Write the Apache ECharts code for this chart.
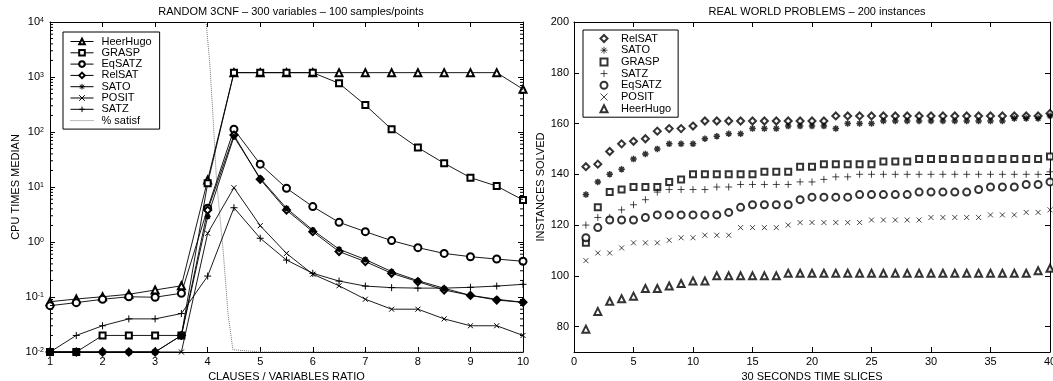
<!DOCTYPE html>
<html><head><meta charset="utf-8">
<script src="https://cdn.jsdelivr.net/npm/echarts@6/dist/echarts.min.js"></script>
<style>html,body{margin:0;padding:0;background:#fff}#c{width:1053px;height:381px}</style>
</head><body><div id="c"></div>
<script>
// ---------- LEFT: RANDOM 3CNF ----------
const ratios = [1,1.5,2,2.5,3,3.5,4,4.5,5,5.5,6,6.5,7,7.5,8,8.5,9,9.5,10];
const heerHugo = [0.082,0.092,0.101,0.112,0.134,0.16,13.4,1200,1200,1200,1200,1200,1200,1200,1200,1200,1200,1200,600];
const grasp    = [0.01,0.01,0.02,0.02,0.02,0.02,11.7,1200,1200,1200,1200,768,309,112,52,27,14.8,10.4,5.8];
const eqsatz   = [0.0695,0.079,0.091,0.101,0.099,0.117,4.1,112,26,9.5,4.4,2.28,1.54,1.06,0.79,0.62,0.54,0.49,0.446];
const relsat   = [0.01,0.01,0.01,0.01,0.01,0.02,3.8,88,13.8,3.8,1.54,0.67,0.44,0.27,0.19,0.134,0.107,0.088,0.08];
const sato     = [0.01,0.01,0.01,0.01,0.01,0.02,2.9,82,14.4,4.1,1.65,0.74,0.48,0.29,0.198,0.144,0.107,0.091,0.08];
const posit    = [0.01,0.01,0.01,0.01,0.01,0.01,1.44,9.7,1.98,0.62,0.26,0.16,0.091,0.06,0.06,0.04,0.03,0.03,0.02];
const satz     = [0.01,0.02,0.03,0.04,0.04,0.05,0.24,4.2,1.17,0.47,0.27,0.195,0.158,0.148,0.145,0.145,0.15,0.158,0.17];
const satisfX  = [3.97,4.04,4.1,4.17,4.29,4.39,4.48,5,10];
const satisfV  = [10000,1800,204,12.6,0.78,0.047,0.011,0.01,0.01];
const leftNames = ['HeerHugo','GRASP','EqSATZ','RelSAT','SATO','POSIT','SATZ','% satisf'];
const logMantissas = [2,3,4,5,6,7,8,9];
const logDecades = [-2,-1,0,1,2,3];

// ---------- RIGHT: REAL WORLD PROBLEMS ----------
const slices = [1,2,3,4,5,6,7,8,9,10,11,12,13,14,15,16,17,18,19,20,21,22,23,24,25,26,27,28,29,30,31,32,33,34,35,36,37,38,39,40];
const relsatR = [143,144,149,152,153,154,157,158,158,159,161,161,161,161,161,161,161,161,161,161,161,163,163,163,163,163,163,163,163,163,163,163,163,163,163,163,163,163,163,164];
const satoR   = [132,137,140,142,146,148,150,152,152,152,154,155,156,156,158,158,158,159,159,159,159,158,160,160,160,161,161,161,161,161,161,161,161,161,161,161,162,162,162,163];
const graspR  = [113,127,133,134,135,135,135,137,138,140,140,140,140,140,140,141,141,141,143,143,144,144,144,144,144,145,145,145,146,146,146,146,146,146,146,146,146,146,146,147];
const satzR   = [120,123,123,126,128,130,133,134,134,134,134,135,135,136,136,136,136,136,137,137,138,139,139,140,140,140,140,140,140,140,140,140,140,140,140,140,140,140,140,141];
const eqsatzR = [115,119,122,122,122,123,124,124,124,124,124,124,125,127,128,128,128,128,130,131,131,131,131,132,132,132,132,132,133,133,133,133,133,134,135,135,135,136,136,137];
const positR  = [106,109,109,111,113,113,113,114,115,115,116,116,116,119,119,119,119,120,121,121,121,121,121,121,122,122,122,122,122,123,123,123,123,123,124,124,124,125,125,126];
const heerR   = [79,86,90,91,92,95,95,96,97,98,98,100,100,100,100,100,100,101,101,101,101,101,101,101,101,101,101,101,101,101,101,101,101,101,101,101,101,101,102,103];
const rightNames = ['RelSAT','SATO','GRASP','SATZ','EqSATZ','POSIT','HeerHugo'];
const rightYTicks = [80,100,120,140,160,180,200];

const FONT = 'Liberation Sans, Arial, Helvetica, sans-serif';
const X_PATH = 'path://M0,0L10,10M10,0L0,10';
const PLUS_PATH = 'path://M5,0L5,10M0,5L10,5';
const STAR_PATH = 'path://M5,0L5,10M0,5L10,5M1.5,1.5L8.5,8.5M8.5,1.5L1.5,8.5';

const pair = (xs, ys) => xs.map((x, i) => [x, ys[i]]);
const minorVals = [];
logDecades.forEach(d => logMantissas.forEach(m => minorVals.push([1, m * Math.pow(10, d)])));

function lineSeries(name, vals, symbol, size, bw) {
  return {
    type: 'line', name: name, xAxisIndex: 0, yAxisIndex: 0,
    data: pair(ratios, vals), symbol: symbol, symbolSize: size, showAllSymbol: true,
    lineStyle: { color: '#000', width: 0.9 },
    itemStyle: { color: '#000', borderColor: '#000', borderWidth: bw || 1 },
    emphasis: { disabled: true }, z: 3
  };
}
function scatterSeries(name, vals, symbol, size, bw) {
  return {
    type: 'scatter', name: 'R:' + name, xAxisIndex: 2, yAxisIndex: 2,
    data: pair(slices, vals), symbol: symbol, symbolSize: size,
    itemStyle: { color: '#000', borderColor: '#000', borderWidth: bw || 0.9 },
    emphasis: { disabled: true }
  };
}

const axisLine = { show: true, onZero: false, lineStyle: { color: '#000', width: 1 } };
const tickIn = { show: true, inside: true, length: 5, lineStyle: { color: '#000' } };
const lab = { color: '#000', fontSize: 11, fontFamily: FONT };

const leftLegendData = leftNames.map(n => n === '% satisf'
  ? { name: n, itemStyle: { opacity: 0 } }
  : { name: n });

const option = {
  animation: false,
  backgroundColor: '#fff',
  textStyle: { fontFamily: FONT, color: '#000' },
  title: [
    { text: 'RANDOM 3CNF \u2013 300 variables \u2013 100 samples/points', left: 286, top: 1, textAlign: 'center',
      textStyle: { fontSize: 11, fontWeight: 'normal', color: '#000', fontFamily: FONT } },
    { text: 'REAL WORLD PROBLEMS \u2013 200 instances', left: 812, top: 1, textAlign: 'center',
      textStyle: { fontSize: 11, fontWeight: 'normal', color: '#000', fontFamily: FONT } }
  ],
  legend: [
    { data: leftLegendData, orient: 'vertical', left: 63, top: 32, padding: [4, 8, 3, 7],
      itemWidth: 23, itemHeight: 7, itemGap: 0.3, selectedMode: false,
      itemStyle: { borderWidth: 1 }, lineStyle: { width: 1 },
      backgroundColor: '#fff', borderColor: '#000', borderWidth: 1, borderRadius: 0,
      textStyle: { fontSize: 11, color: '#000', fontFamily: FONT, lineHeight: 11, padding: [0, 0, 0, 3] } },
    { data: rightNames.map(n => 'R:' + n), orient: 'vertical', left: 583, top: 30, padding: [3, 7, 3, 16.5],
      itemWidth: 7, itemHeight: 7, itemGap: 0.7, selectedMode: false,
      itemStyle: { borderWidth: 0.9 },
      formatter: n => n.replace('R:', ''),
      backgroundColor: '#fff', borderColor: '#000', borderWidth: 1, borderRadius: 0,
      textStyle: { fontSize: 11, color: '#000', fontFamily: FONT, lineHeight: 11, padding: [0, 0, 0, 8.5] } }
  ],
  grid: [
    { left: 50, top: 22, width: 473, height: 330, containLabel: false, outerBoundsMode: 'none' },
    { left: 574, top: 22, width: 476, height: 330, containLabel: false, outerBoundsMode: 'none' }
  ],
  xAxis: [
    { type: 'value', gridIndex: 0, min: 1, max: 10, interval: 1, position: 'bottom',
      name: 'CLAUSES / VARIABLES RATIO', nameLocation: 'middle', nameGap: 14,
      nameTextStyle: { fontSize: 11, color: '#000', fontFamily: FONT },
      axisLine: axisLine, axisTick: tickIn, splitLine: { show: false },
      axisLabel: Object.assign({ margin: 4 }, lab) },
    { type: 'value', gridIndex: 0, min: 1, max: 10, interval: 1, position: 'top',
      axisLine: axisLine, axisTick: tickIn, splitLine: { show: false }, axisLabel: { show: false } },
    { type: 'value', gridIndex: 1, min: 0, max: 40, interval: 5, position: 'bottom',
      name: '30 SECONDS TIME SLICES', nameLocation: 'middle', nameGap: 14,
      nameTextStyle: { fontSize: 11, color: '#000', fontFamily: FONT },
      axisLine: axisLine, axisTick: tickIn, splitLine: { show: false },
      axisLabel: Object.assign({ margin: 4 }, lab) },
    { type: 'value', gridIndex: 1, min: 0, max: 40, interval: 5, position: 'top',
      axisLine: axisLine, axisTick: tickIn, splitLine: { show: false }, axisLabel: { show: false } }
  ],
  yAxis: [
    { type: 'log', logBase: 10, gridIndex: 0, min: 0.01, max: 10000, splitNumber: 6, position: 'left',
      name: 'CPU TIMES MEDIAN', nameLocation: 'middle', nameGap: 29, nameRotate: 90,
      nameTextStyle: { fontSize: 11, color: '#000', fontFamily: FONT },
      axisLine: axisLine, axisTick: tickIn, splitLine: { show: false }, minorTick: { show: false },
      axisLabel: { margin: 6, color: '#000', fontFamily: FONT,
        formatter: v => '{b|10}{s|' + Math.round(Math.log10(v)) + '}',
        rich: { b: { fontSize: 11, fontFamily: FONT, color: '#000' },
                s: { fontSize: 7, fontFamily: FONT, color: '#000', verticalAlign: 'top', padding: [0, 0, 4, 0] } } } },
    { type: 'log', logBase: 10, gridIndex: 0, min: 0.01, max: 10000, splitNumber: 6, position: 'right',
      axisLine: axisLine, axisTick: tickIn, splitLine: { show: false }, axisLabel: { show: false } },
    { type: 'value', gridIndex: 1, min: 70, max: 200, position: 'left',
      name: 'INSTANCES SOLVED', nameLocation: 'middle', nameGap: 23, nameRotate: 90,
      nameTextStyle: { fontSize: 11, color: '#000', fontFamily: FONT },
      axisLine: axisLine, axisTick: Object.assign({ customValues: rightYTicks }, tickIn), splitLine: { show: false },
      axisLabel: Object.assign({ margin: 5, customValues: rightYTicks }, lab) },
    { type: 'value', gridIndex: 1, min: 70, max: 200, position: 'right',
      axisLine: axisLine, axisTick: Object.assign({ customValues: rightYTicks }, tickIn), splitLine: { show: false },
      axisLabel: { show: false, customValues: rightYTicks } }
  ],
  series: [
    lineSeries('HeerHugo', heerHugo, 'emptyTriangle', 7),
    lineSeries('GRASP', grasp, 'emptyRect', 6),
    lineSeries('EqSATZ', eqsatz, 'emptyCircle', 7),
    lineSeries('RelSAT', relsat, 'emptyDiamond', 7),
    lineSeries('SATO', sato, STAR_PATH, 6, 1.6),
    lineSeries('POSIT', posit, X_PATH, 5),
    lineSeries('SATZ', satz, PLUS_PATH, 7),
    { type: 'line', name: '% satisf', xAxisIndex: 0, yAxisIndex: 0, data: pair(satisfX, satisfV),
      showSymbol: false, symbol: 'none', lineStyle: { color: '#777', width: 1, type: 'dotted' },
      itemStyle: { color: '#777' }, emphasis: { disabled: true }, z: 2 },
    { type: 'custom', xAxisIndex: 0, yAxisIndex: 0, data: minorVals, silent: true, z: 5,
      renderItem: function (params, api) {
        const y = api.coord([1, api.value(1)])[1];
        const L = params.coordSys.x, R = params.coordSys.x + params.coordSys.width;
        return { type: 'group', children: [
          { type: 'line', shape: { x1: L, y1: y, x2: L + 3, y2: y }, style: { stroke: '#000', lineWidth: 1 } },
          { type: 'line', shape: { x1: R - 3, y1: y, x2: R, y2: y }, style: { stroke: '#000', lineWidth: 1 } }
        ] };
      } },
    scatterSeries('RelSAT', relsatR, 'emptyDiamond', 7),
    scatterSeries('SATO', satoR, STAR_PATH, 6.5, 1.5),
    scatterSeries('GRASP', graspR, 'emptyRect', 6),
    scatterSeries('SATZ', satzR, PLUS_PATH, 7),
    scatterSeries('EqSATZ', eqsatzR, 'emptyCircle', 7),
    scatterSeries('POSIT', positR, X_PATH, 5),
    scatterSeries('HeerHugo', heerR, 'emptyTriangle', 7)
  ]
};
const chart = echarts.init(document.getElementById('c'), null, { renderer: 'canvas' });
chart.setOption(option);
</script></body></html>
